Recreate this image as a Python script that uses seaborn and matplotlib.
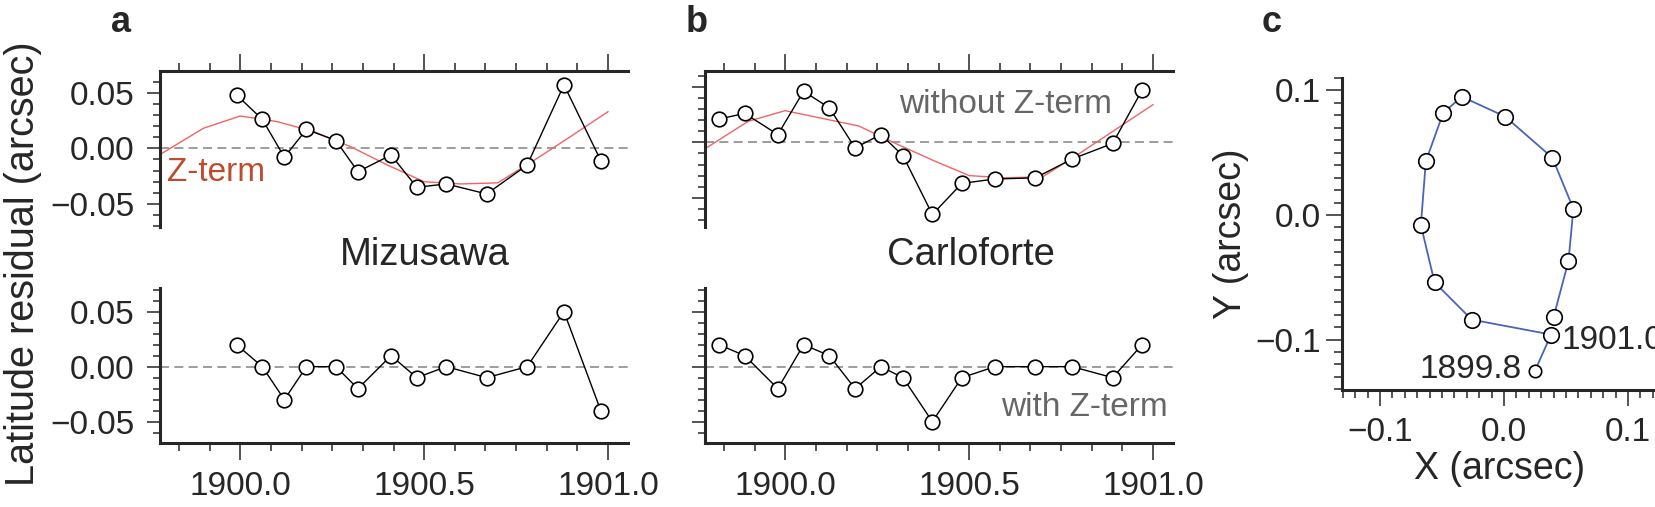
import matplotlib
matplotlib.use('Agg')
import matplotlib.pyplot as plt
from matplotlib.ticker import MultipleLocator, FuncFormatter
import seaborn as sns
import numpy as np
import pandas as pd

sns.set_style('ticks')
plt.rcParams['font.family'] = ['Liberation Sans', 'DejaVu Sans']

# Mizusawa epochs and latitude residuals (arcsec)
miz_t = [1899.99, 1900.06, 1900.12, 1900.18, 1900.26, 1900.32, 1900.41,
         1900.48, 1900.56, 1900.67, 1900.78, 1900.88, 1900.98]
miz_raw = [0.048, 0.026, -0.008, 0.017, 0.007, -0.021, -0.006,
           -0.035, -0.032, -0.041, -0.015, 0.057, -0.011]
miz_cor = [0.02, 0.0, -0.03, 0.0, 0.0, -0.02, 0.01,
           -0.01, 0.0, -0.01, 0.0, 0.05, -0.04]

# Carloforte epochs and latitude residuals (arcsec)
car_t = [1899.82, 1899.89, 1899.98, 1900.05, 1900.12, 1900.19, 1900.26,
         1900.32, 1900.40, 1900.48, 1900.57, 1900.68, 1900.78, 1900.89, 1900.97]
car_raw = [0.021, 0.026, 0.007, 0.046, 0.031, -0.005, 0.007,
           -0.012, -0.065, -0.037, -0.033, -0.032, -0.015, -0.001, 0.047]
car_cor = [0.02, 0.01, -0.02, 0.02, 0.01, -0.02, 0.0,
           -0.01, -0.05, -0.01, 0.0, 0.0, 0.0, -0.01, 0.02]

# Z-term model
zt_t = [1899.7, 1899.8, 1899.9, 1900.0, 1900.1, 1900.2, 1900.3,
        1900.4, 1900.5, 1900.6, 1900.7, 1900.8, 1900.9, 1901.0]
miz_z = [-0.022, -0.002, 0.018, 0.029, 0.024, 0.015, 0.0015,
         -0.015, -0.030, -0.032, -0.031, -0.0105, 0.011, 0.033]
car_z = [-0.023, -0.002, 0.019, 0.0285, 0.0216, 0.0147, -0.001,
         -0.016, -0.030, -0.032, -0.031, -0.010, 0.012, 0.034]

# polar motion path (arcsec)
pm_x = [0.025, 0.038, -0.026, -0.056, -0.067, -0.063, -0.049,
        -0.034, 0.001, 0.039, 0.056, 0.052, 0.040]
pm_y = [-0.125, -0.096, -0.084, -0.054, -0.008, 0.043, 0.082,
        0.095, 0.079, 0.046, 0.005, -0.037, -0.082]

W, H = 1656, 507
fig = plt.figure(figsize=(W / 100, H / 100), dpi=100)

TICK = 24
SPW = 2.2
XLIM = (1899.782, 1901.054)


def fmt(nd):
    def f(v, p):
        if abs(v) < 1e-9:
            v = 0.0
        return f'{v:.{nd}f}'.replace('-', '\u2212')
    return FuncFormatter(f)


def px(l, t, w, h):
    return [l / W, 1 - (t + h) / H, w / W, h / H]


def style_ts(ax, top):
    ax.set_xlim(*XLIM)
    ax.xaxis.set_major_locator(MultipleLocator(0.5))
    ax.xaxis.set_minor_locator(MultipleLocator(1 / 12))
    ax.yaxis.set_major_locator(MultipleLocator(0.05))
    ax.yaxis.set_minor_locator(MultipleLocator(0.01))
    ax.xaxis.set_major_formatter(fmt(1))
    ax.yaxis.set_major_formatter(fmt(2))
    ax.spines['right'].set_visible(False)
    ax.spines['left'].set_linewidth(SPW)
    if top:
        ax.spines['bottom'].set_visible(False)
        ax.spines['top'].set_linewidth(SPW)
        ax.xaxis.tick_top()
        ax.tick_params(axis='x', labeltop=False)
    else:
        ax.spines['top'].set_visible(False)
        ax.spines['bottom'].set_linewidth(SPW)
    ax.tick_params(axis='x', which='major', length=12, width=1.1,
                   labelsize=TICK, pad=8)
    ax.tick_params(axis='x', which='minor', length=6, width=1.1)
    ax.tick_params(axis='y', which='major', length=9.5, width=1.1,
                   labelsize=TICK, pad=9)
    ax.tick_params(axis='y', which='minor', length=5, width=1.1)
    ax.set_xlabel('')
    ax.set_ylabel('')


def series(ax, t, v, z=None):
    ax.axhline(0, color='#8c8c8c', lw=1.2, ls=(0, (5.4, 3.2)), zorder=1)
    if z is not None:
        sns.lineplot(x=zt_t, y=z, ax=ax, color='#f06464', lw=1.0,
                     estimator=None, zorder=2)
    sns.lineplot(x=t, y=v, ax=ax, color='black', lw=1.0, estimator=None,
                 marker='o', markersize=10.5, markerfacecolor='white',
                 markeredgecolor='black', markeredgewidth=1.2, zorder=3)


ax_at = fig.add_axes(px(160, 70.7, 468, 156))
ax_ab = fig.add_axes(px(160, 288, 468, 155))
ax_bt = fig.add_axes(px(705, 70.7, 468, 156))
ax_bb = fig.add_axes(px(705, 288, 468, 155))
ax_c = fig.add_axes(px(1342, 78, 316, 312))

series(ax_at, miz_t, miz_raw, miz_z)
series(ax_ab, miz_t, miz_cor)
series(ax_bt, car_t, car_raw, car_z)
series(ax_bb, car_t, car_cor)

for ax, top in [(ax_at, True), (ax_ab, False), (ax_bt, True), (ax_bb, False)]:
    style_ts(ax, top)

ax_at.set_ylim(-0.0704, 0.0697)
ax_bt.set_ylim(-0.076, 0.0645)
ax_ab.set_ylim(-0.0694, 0.0715)
ax_bb.set_ylim(-0.0694, 0.0715)
ax_bt.tick_params(axis='y', labelleft=False)
ax_bb.tick_params(axis='y', labelleft=False)

ax_at.text(1899.802, -0.0213, 'Z-term', color='#bf4a2e', fontsize=TICK,
           ha='left', va='center')
ax_bt.text(1900.887, 0.0345, 'without Z-term', color='#666666', fontsize=TICK,
           ha='right', va='center')
ax_bb.text(1901.04, -0.037, 'with Z-term', color='#666666', fontsize=TICK,
           ha='right', va='center')

# panel c
sns.lineplot(x=pm_x, y=pm_y, ax=ax_c, sort=False, estimator=None,
             color='#4a64b8', lw=1.3, zorder=2)
sns.scatterplot(x=pm_x[1:], y=pm_y[1:], ax=ax_c, s=125, color='white',
                edgecolor='black', linewidth=1.2, zorder=3)
sns.scatterplot(x=pm_x[:1], y=pm_y[:1], ax=ax_c, s=80, color='white',
                edgecolor='black', linewidth=1.2, zorder=3)
ax_c.set_xlim(-0.1306, 0.1242)
ax_c.set_ylim(-0.1405, 0.1100)
ax_c.xaxis.set_major_locator(MultipleLocator(0.1))
ax_c.xaxis.set_minor_locator(MultipleLocator(0.01))
ax_c.yaxis.set_major_locator(MultipleLocator(0.1))
ax_c.yaxis.set_minor_locator(MultipleLocator(0.01))
ax_c.xaxis.set_major_formatter(fmt(1))
ax_c.yaxis.set_major_formatter(fmt(1))
for s in ['top', 'right']:
    ax_c.spines[s].set_visible(False)
for s in ['left', 'bottom']:
    ax_c.spines[s].set_linewidth(SPW)
ax_c.tick_params(which='major', length=11.5, width=1.1, labelsize=TICK)
ax_c.tick_params(which='minor', length=6, width=1.1)
ax_c.tick_params(axis='x', pad=8)
ax_c.tick_params(axis='y', pad=4)
ax_c.set_xlabel('X (arcsec)', fontsize=27, labelpad=2)
ax_c.set_ylabel('Y (arcsec)', fontsize=27, labelpad=4)
ax_c.text(0.0145, -0.1237, '1899.8', fontsize=TICK, ha='right', va='center')
ax_c.text(0.046, -0.1004, '1901.0', fontsize=TICK, ha='left', va='center')

# figure texts
fig.text(23 / W, 1 - 264 / H, 'Latitude residual (arcsec)', rotation=90,
         fontsize=28.5, ha='center', va='center')
fig.text(425 / W, 1 - 255 / H, 'Mizusawa', fontsize=27.5, ha='center', va='center')
fig.text(971 / W, 1 - 255 / H, 'Carloforte', fontsize=27.5, ha='center', va='center')
for lab, xx in [('a', 121), ('b', 697), ('c', 1272)]:
    fig.text(xx / W, 1 - 23 / H, lab, fontsize=26, fontweight='bold',
             ha='center', va='center')

fig.savefig('out.png', dpi=100)
